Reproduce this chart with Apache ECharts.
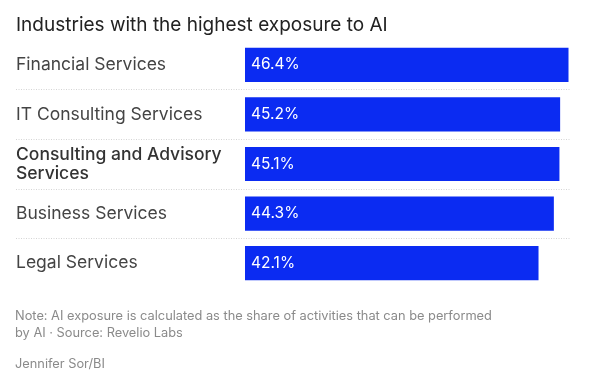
<!DOCTYPE html>
<html>
<head>
<meta charset="utf-8">
<script src="https://cdn.jsdelivr.net/npm/echarts@6/dist/echarts.min.js"></script>
<style>html,body{margin:0;padding:0;background:#fff}#c{width:595px;height:384px}</style>
</head>
<body>
<div id="c"></div>
<script>
const categories = ['Financial Services', 'IT Consulting Services', 'Consulting and Advisory\nServices', 'Business Services', 'Legal Services'];
const values = [46.4, 45.2, 45.1, 44.3, 42.1];
const titleText = 'Industries with the highest exposure to AI';
const noteText = 'Note: AI exposure is calculated as the share of activities that can be performed\nby AI \u00b7 Source: Revelio Labs';
const creditText = 'Jennifer Sor/BI';

const FONT = 'Inter, "Noto Sans", sans-serif';
const chart = echarts.init(document.getElementById('c'), null, {renderer: 'canvas'});
chart.setOption({
  animation: false,
  backgroundColor: '#fff',
  title: [
    {text: titleText, left: 16, top: 16, padding: 0, textStyle: {fontFamily: FONT, fontSize: 19, fontWeight: 'normal', color: '#222'}},
    {text: noteText, left: 15, top: 308, padding: 0, textStyle: {fontFamily: FONT, fontSize: 12.8, fontWeight: 'normal', color: '#8a8a8a', lineHeight: 17}},
    {text: creditText, left: 15, top: 358, padding: 0, textStyle: {fontFamily: FONT, fontSize: 12.8, fontWeight: 'normal', color: '#8a8a8a'}}
  ],
  grid: [
    {left: 16, right: 25, top: 40, bottom: 96},
    {left: 245, right: 26.5, top: 40, bottom: 96}
  ],
  xAxis: [
    {gridIndex: 0, type: 'value', min: 0, max: 1, show: false},
    {gridIndex: 1, type: 'value', min: 0, max: 46.4, show: false}
  ],
  yAxis: [
    {gridIndex: 0, type: 'category', data: categories, inverse: true,
     axisLine: {show: false}, axisTick: {show: false}, axisLabel: {show: false},
     splitLine: {show: true, showMinLine: false, showMaxLine: false, lineStyle: {color: '#d4d4d4', type: [1, 1.5], width: 1}}},
    {gridIndex: 1, type: 'category', data: categories, inverse: true,
     axisLine: {show: false}, axisTick: {show: false}, splitLine: {show: false},
     axisLabel: {align: 'left', margin: 229, fontFamily: FONT, fontSize: 17.5, color: '#444', lineHeight: 19,
       formatter: function (v) { return v.indexOf('\n') >= 0 ? '{b|' + v.split('\n').join('}\n{b|') + '}' : v; },
       rich: {b: {fontFamily: FONT, fontSize: 17.5, color: '#333', fontWeight: 500, lineHeight: 19}}}}
  ],
  series: [{
    type: 'bar', xAxisIndex: 1, yAxisIndex: 1, data: values, barWidth: '69%',
    itemStyle: {color: '#0b2bf2'},
    label: {show: true, position: 'insideLeft', distance: 6, formatter: '{c}%', color: '#fff', fontFamily: FONT, fontSize: 15.5}
  }]
});
</script>
</body>
</html>
